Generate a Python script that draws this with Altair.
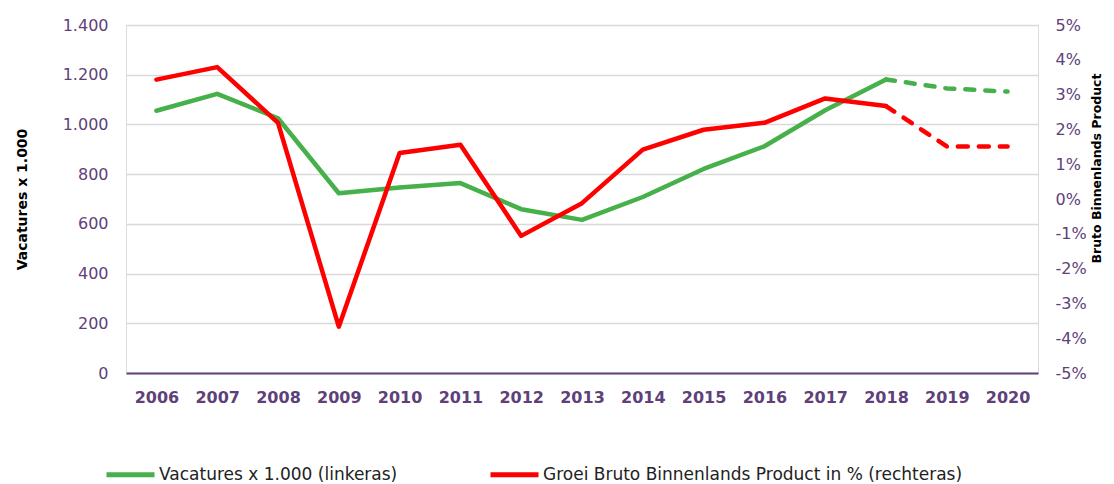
import altair as alt
import pandas as pd

years = [str(y) for y in range(2006, 2021)]
vacatures = [1055, 1123, 1025, 723, 746, 764, 659, 616, 708, 821, 912, 1057, 1181, 1145, 1132]
bbp = [3.43, 3.79, 2.19, -3.67, 1.32, 1.56, -1.06, -0.12, 1.42, 1.99, 2.19, 2.89, 2.67, 1.51, 1.51]
series_names = ["Vacatures x 1.000 (linkeras)",
                "Groei Bruto Binnenlands Product in % (rechteras)"]
colors = ["#46B04A", "#FF0000"]
last_actual = 2018
left_ticks = [0, 200, 400, 600, 800, 1000, 1200, 1400]
right_ticks = [-5, -4, -3, -2, -1, 0, 1, 2, 3, 4, 5]

rows = []
for name, vals in zip(series_names, [vacatures, bbp]):
    for y, v in zip(years, vals):
        yi = int(y)
        if yi <= last_actual:
            rows.append({"year": y, "series": name, "value": v, "part": "actual"})
        if yi >= last_actual:
            rows.append({"year": y, "series": name, "value": v, "part": "forecast"})
df = pd.DataFrame(rows)

PURPLE = "#5E4178"
FONT = "DejaVu Sans"

x_enc = alt.X(
    "year:O",
    sort=years,
    scale=alt.Scale(type="point", padding=0.5),
    axis=alt.Axis(
        title=None, labelAngle=0, labelFont=FONT, labelFontSize=16, labelFontWeight="bold",
        labelColor=PURPLE, ticks=False, grid=False, domainColor=PURPLE, domainWidth=2,
        labelPadding=16,
    ),
)

left_axis = alt.Axis(
    values=left_ticks, title="Vacatures x 1.000", titleFont=FONT, titleFontSize=14,
    titleFontWeight="bold", titleColor="#000000", titlePadding=33,
    labelExpr="replace(format(datum.value, ','), ',', '.')",
    labelFont=FONT, labelFontSize=16, labelColor=PURPLE, labelPadding=18,
    ticks=False, domain=False, grid=True, gridColor="#D9D9D9", gridWidth=1.5,
)
right_axis = alt.Axis(
    orient="right", values=right_ticks, title="Bruto Binnenlands  Product",
    titleFont=FONT, titleFontSize=12.5, titleFontWeight="bold", titleColor="#000000",
    titleAngle=270, titleX=65, titleY=143, titleBaseline="bottom", titleAlign="center",
    labelExpr="datum.value + '%'", labelFont=FONT, labelFontSize=16,
    labelColor=PURPLE, labelPadding=17,
    ticks=False, domain=False, grid=False,
)

base = alt.Chart(df)

color_enc = alt.Color(
    "series:N",
    scale=alt.Scale(domain=series_names, range=colors),
    legend=alt.Legend(
        title=None, orient="none", direction="horizontal", legendX=-8, legendY=437,
        symbolType="M-2.4,0H2.4", symbolSize=400, symbolStrokeWidth=5,
        labelFont=FONT, labelFontSize=17, labelColor="#222222", labelOffset=16,
        columnPadding=82, padding=0, labelLimit=600,
    ),
)

y_left = alt.Y("value:Q", scale=alt.Scale(domain=[0, 1400], nice=False, zero=False), axis=left_axis)
y_right = alt.Y("value:Q", scale=alt.Scale(domain=[-5, 5], nice=False, zero=False), axis=right_axis)

line_kw = dict(strokeWidth=4.5, strokeCap="round", strokeJoin="round")

vac_solid = base.transform_filter(
    (alt.datum.series == series_names[0]) & (alt.datum.part == "actual")
).mark_line(**line_kw).encode(x=x_enc, y=y_left, color=color_enc)
vac_dash = base.transform_filter(
    (alt.datum.series == series_names[0]) & (alt.datum.part == "forecast")
).mark_line(strokeDash=[9, 11], **line_kw).encode(x=x_enc, y=y_left, stroke=alt.value(colors[0]))

bbp_solid = base.transform_filter(
    (alt.datum.series == series_names[1]) & (alt.datum.part == "actual")
).mark_line(**line_kw).encode(x=x_enc, y=y_right, color=color_enc)
bbp_dash = base.transform_filter(
    (alt.datum.series == series_names[1]) & (alt.datum.part == "forecast")
).mark_line(strokeDash=[10, 11], **line_kw).encode(x=x_enc, y=y_right, stroke=alt.value(colors[1]))

left_layer = alt.layer(vac_solid, vac_dash)
right_layer = alt.layer(bbp_solid, bbp_dash)

chart = alt.layer(left_layer, right_layer).resolve_scale(y="independent").properties(
    width=912, height=348,
    padding={"left": 7, "top": 9, "right": 0, "bottom": 0},
).configure_view(stroke=None).configure(background="#FFFFFF")

chart.save("out.html", embed_options={"renderer": "svg", "actions": False})
